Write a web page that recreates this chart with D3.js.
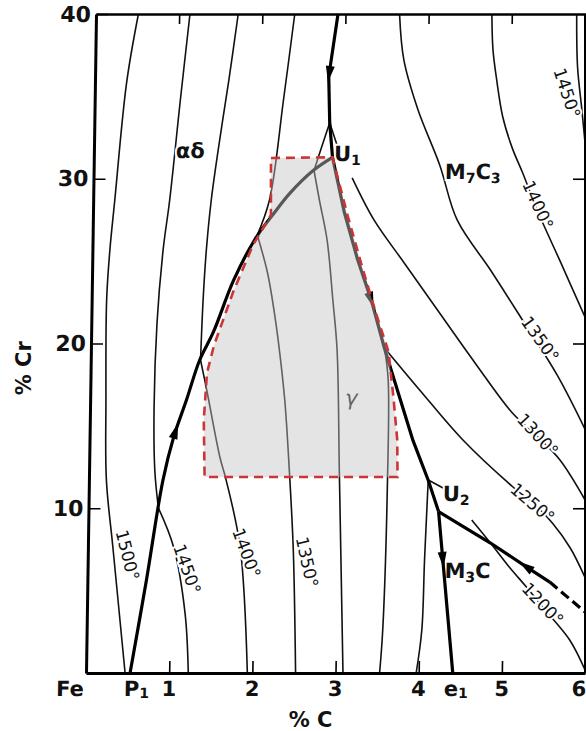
<!DOCTYPE html>
<html>
<head>
<meta charset="utf-8">
<script src="https://cdn.jsdelivr.net/npm/d3@7"></script>
<style>
body { margin: 0; background: #fff; }
text { font-family: "DejaVu Sans", sans-serif; fill: #111; }
</style>
</head>
<body>
<svg id="chart" width="586" height="731"></svg>
<script>
// values are [%C, %Cr]

// heavy boundary lines
const bP1U1 = [[0.53,0],[0.71,5.65],[0.89,11.7],[1.01,14.3],[1.16,16.6],[1.31,19.0],[1.47,20.7],[1.70,23.8],[1.95,26.3],[2.19,28.0],[2.36,29.1],[2.64,30.5],[2.87,31.3]];
const bTop = [[2.91,40],[2.81,36.2],[2.83,33.4],[2.87,31.3]];
const bU1U2 = [[2.87,31.3],[3.02,28.0],[3.19,25.1],[3.37,22.5],[3.53,19.7],[3.89,14.1],[4.08,11.7],[4.21,9.8]];
const bU2e1 = [[4.21,9.8],[4.41,0]];
const bU2M = [[4.21,9.8],[4.84,7.89],[5.28,6.43],[5.56,5.52]];
const bU2Mdash = [[5.56,5.52],[5.99,3.7]];

// isotherms
const iso1500 = [[0.51,40],[0.38,35.81],[0.26,28.71],[0.21,25.68],[0.18,22.64],[0.19,16.57],[0.21,11.71],[0.30,7.65],[0.47,0]];
const iso1450a = [[1.13,40],[1.03,34.78],[0.92,28.71],[0.85,25.68],[0.79,21.24],[0.77,16.15],[0.79,12.32],[0.84,10.02]];
const iso1450b = [[0.84,10.02],[1.03,7.65],[1.18,3.64],[1.23,0]];
const iso1400a = [[1.71,40],[1.61,36.0],[1.51,32.35],[1.42,28.71],[1.37,25.68],[1.34,22.64],[1.32,19.0]];
const iso1400b = [[1.32,19.0],[1.40,17.18],[1.57,13.11],[1.65,11.71],[1.83,7.65],[1.94,0]];
const iso1350a = [[2.39,40],[2.27,34.78],[2.12,28.71],[1.98,26.59]];
const iso1350b = [[1.98,26.59],[2.11,24.28],[2.20,21.85],[2.25,20.21],[2.34,16.57],[2.41,12.14],[2.47,7.47],[2.52,0]];
const iso1300a = [[2.83,33.4],[2.70,31.32],[2.65,30.5]];
const iso1300b = [[2.65,30.5],[2.72,28.71],[2.82,26.28],[2.90,22.64],[2.96,19.61],[3.01,12.14],[3.09,0]];
const forkRight = [[2.83,33.4],[2.93,31.93]];
const iso1300M = [[3.11,30.05],[3.38,27.5],[3.76,24.83],[4.16,22.03],[4.63,18.76],[5.08,15.78],[5.39,14.33],[5.66,12.93],[5.97,10.5]];
const iso1350M = [[3.65,40],[3.71,37.21],[3.89,34.17],[4.16,30.84],[4.38,27.5],[4.79,24.46],[5.16,21.61],[5.61,18.09],[5.96,14.75]];
const iso1400M = [[4.76,40],[4.78,37.82],[4.83,36.0],[4.91,33.75],[5.03,31.86],[5.16,30.35],[5.34,28.1],[5.63,24.95],[5.94,21.55]];
const iso1450M = [[5.78,40],[5.80,36.78],[5.86,34.17],[5.90,32.35]];
const iso1250M = [[3.53,19.73],[3.96,17.18],[4.49,14.14],[5.10,11.29],[5.37,10.2],[5.58,9.1],[5.80,7.59],[5.98,5.83]];
const iso1250g = [[3.53,19.73],[3.58,17.78],[3.59,11.71],[3.56,2.61],[3.53,0]];
const iso1200g = [[4.08,11.71],[4.05,6.86],[4.03,2.61],[3.97,0]];
const iso1200s = [[4.08,11.71],[4.26,11.23]];
const iso1200M = [[4.61,9.29],[4.84,7.89],[5.08,6.37],[5.28,5.22],[5.51,3.82],[5.81,2.0],[6.0,0.18]];

// highlighted gamma field
const gammaBox = [[2.13,31.26],[2.87,31.3],[3.06,27.8],[3.25,24.58],[3.42,21.85],[3.58,19.48],[3.65,16.57],[3.70,14.14],[3.71,11.9],[1.39,11.9],[1.37,15.36],[1.40,18.21],[1.48,19.9],[1.70,23.13],[1.93,25.98],[2.14,27.8]];

// labels
const isoLabels = [
  { t: "1500°", at: [0.48,7.16] },
  { t: "1450°", at: [1.20,6.31] },
  { t: "1400°", at: [1.91,7.28] },
  { t: "1350°", at: [2.64,6.74] },
  { t: "1450°", at: [5.68,35.2] },
  { t: "1400°", at: [5.35,28.41] },
  { t: "1350°", at: [5.40,20.27] },
  { t: "1300°", at: [5.39,14.45] },
  { t: "1250°", at: [5.34,10.32] },
  { t: "1200°", at: [5.48,4.19] }
];
const isoLabelAngle = [75, 70, 69, 77, 71, 65, 54, 47, 40, 46];

const regionLabels = [
  { parts: [["αδ", 0]], at: [1.16,31.0] },
  { parts: [["U", 0], ["1", 1]], at: [3.05,30.84] },
  { parts: [["M", 0], ["7", 1], ["C", 0], ["3", 1]], at: [4.56,29.74] },
  { parts: [["U", 0], ["2", 1]], at: [4.42,10.2] },
  { parts: [["M", 0], ["3", 1], ["C", 0]], at: [4.57,5.52] }
];
const gammaLabel = { t: "γ", at: [3.14,16.75] };

const xTicks = [1, 2, 3, 4, 5];
const yTicks = [10, 20, 30];
const xLabels = [
  { t: "Fe", c: -0.19 },
  { t: "P", sub: "1", c: 0.61 },
  { t: "1", c: 1 }, { t: "2", c: 2 }, { t: "3", c: 3 }, { t: "4", c: 4 },
  { t: "e", sub: "1", c: 4.45 },
  { t: "5", c: 5 }, { t: "6", c: 5.93 }
];
const yLabels = [10, 20, 30, 40];

// scales
const x = d3.scaleLinear().domain([0, 6]).range([86, 585]);
const y = d3.scaleLinear().domain([0, 40]).range([673, 14]);

const svg = d3.select("#chart");

// the scanned original leans a little to the right at the top
const skew = 10 / 659;
const plot = svg.append("g")
    .attr("transform", `translate(${skew * y(0)},0) skewX(${-Math.atan(skew) * 180 / Math.PI})`);

const smooth = d3.line().x(d => x(d[0])).y(d => y(d[1])).curve(d3.curveCatmullRom.alpha(0.5));
const straight = d3.line().x(d => x(d[0])).y(d => y(d[1]));

// thin isotherms
const isotherms = [iso1500, iso1450a, iso1450b, iso1400a, iso1400b, iso1350a, iso1350b,
    iso1300a, iso1300b, forkRight, iso1300M, iso1350M, iso1400M, iso1450M,
    iso1250M, iso1250g, iso1200g, iso1200s, iso1200M];
plot.selectAll(".iso")
    .data(isotherms)
    .enter().append("path")
    .attr("class", "iso")
    .attr("d", smooth)
    .attr("fill", "none")
    .attr("stroke", "#111")
    .attr("stroke-width", 1.6);

// isotherm labels
plot.selectAll(".isoLabel")
    .data(isoLabels)
    .enter().append("text")
    .attr("class", "isoLabel")
    .attr("transform", (d, i) => `translate(${x(d.at[0])},${y(d.at[1])}) rotate(${isoLabelAngle[i]})`)
    .attr("text-anchor", "middle")
    .attr("dy", "0.36em")
    .style("font-size", "17px")
    .style("stroke", "#fff")
    .style("stroke-width", 4)
    .style("paint-order", "stroke")
    .text(d => d.t);

// region labels
regionLabels.forEach(d => {
    const t = plot.append("text")
        .attr("x", x(d.at[0]))
        .attr("y", y(d.at[1]))
        .attr("text-anchor", "middle")
        .attr("dy", "0.36em")
        .style("font-size", "21px")
        .style("font-weight", "bold")
        .style("stroke", "#fff")
        .style("stroke-width", 4)
        .style("paint-order", "stroke");
    d.parts.forEach(p => {
        t.append("tspan")
            .attr("dy", p[1] ? 4 : (t.selectAll("tspan").size() ? -4 : 0))
            .style("font-size", p[1] ? "14px" : "21px")
            .text(p[0]);
    });
});
plot.append("text")
    .attr("x", x(gammaLabel.at[0]))
    .attr("y", y(gammaLabel.at[1]))
    .attr("text-anchor", "middle")
    .attr("dy", "0.36em")
    .style("font-size", "21px")
    .style("font-style", "italic")
    .text(gammaLabel.t);

// heavy boundaries
function heavy(pts, gen) {
    return plot.append("path")
        .attr("d", gen(pts))
        .attr("fill", "none")
        .attr("stroke", "#000")
        .attr("stroke-width", 3.2)
        .attr("stroke-linejoin", "round");
}
function arrow(path, t, reverse) {
    const node = path.node();
    const L = node.getTotalLength();
    const p = node.getPointAtLength(L * t);
    const q = node.getPointAtLength(Math.min(L, L * t + 1));
    let dx = q.x - p.x, dy = q.y - p.y;
    const n = Math.hypot(dx, dy);
    dx /= n; dy /= n;
    if (reverse) { dx = -dx; dy = -dy; }
    const len = 8, w = 4.5;
    const pts = [
        [p.x + dx * len, p.y + dy * len],
        [p.x - dx * len - dy * w, p.y - dy * len + dx * w],
        [p.x - dx * len + dy * w, p.y - dy * len - dx * w]
    ];
    plot.append("path").attr("d", "M" + pts.join("L") + "Z").attr("fill", "#000");
}
arrow(heavy(bP1U1, smooth), 0.435, false);
arrow(heavy(bTop, straight), 0.42, false);
arrow(heavy(bU1U2, straight), 0.40, false);
arrow(heavy(bU2e1, straight), 0.30, false);
arrow(heavy(bU2M, straight), 0.78, true);
heavy(bU2Mdash, straight).attr("stroke-dasharray", "10,5");

// frame
const bottomAxis = plot.append("g")
    .attr("transform", `translate(0,${y(0)})`)
    .call(d3.axisBottom(x).tickValues(xTicks).tickSizeInner(-12).tickSizeOuter(0).tickFormat(""));
const topAxis = plot.append("g")
    .attr("transform", `translate(0,${y(40)})`)
    .call(d3.axisTop(x).tickValues(xTicks).tickSizeInner(-10).tickSizeOuter(0).tickFormat(""));
const leftAxis = plot.append("g")
    .attr("transform", `translate(${x(0)},0)`)
    .call(d3.axisLeft(y).tickValues(yLabels).tickSizeInner(-12).tickSizeOuter(0).tickPadding(5));
const rightAxis = svg.append("g")
    .attr("transform", `translate(${x(6)},0)`)
    .call(d3.axisRight(y).tickValues(yTicks).tickSizeInner(-12).tickSizeOuter(0).tickFormat(""));

[bottomAxis, topAxis, leftAxis, rightAxis].forEach(a => {
    a.select(".domain").attr("stroke", "#000").attr("stroke-width", 3);
    a.selectAll(".tick line").attr("stroke", "#000").attr("stroke-width", 1.6);
});
topAxis.select(".domain").attr("stroke-width", 2.6);
leftAxis.selectAll(".tick text")
    .attr("fill", "#111")
    .style("font-family", "DejaVu Sans")
    .style("font-size", "22px")
    .style("font-weight", "bold");

// bottom labels
const xl = plot.selectAll(".xLabel")
    .data(xLabels)
    .enter().append("text")
    .attr("class", "xLabel")
    .attr("x", d => x(d.c))
    .attr("y", y(0) + 23)
    .attr("text-anchor", "middle")
    .style("font-size", "21px")
    .style("font-weight", "bold");
xl.append("tspan").text(d => d.t);
xl.filter(d => d.sub).append("tspan")
    .attr("dy", 2)
    .style("font-size", "14px")
    .text(d => d.sub);

svg.append("text")
    .attr("x", x(2.7))
    .attr("y", 727)
    .attr("text-anchor", "middle")
    .style("font-size", "21px")
    .style("font-weight", "bold")
    .text("% C");
svg.append("text")
    .attr("transform", `translate(31,${y(18.5)}) rotate(-90)`)
    .attr("text-anchor", "middle")
    .style("font-size", "21px")
    .style("font-weight", "bold")
    .text("% Cr");

// gamma field highlight
plot.append("path")
    .attr("d", straight(gammaBox) + "Z")
    .attr("fill", "#c4c4c4")
    .attr("fill-opacity", 0.45)
    .attr("stroke", "none");
plot.append("path")
    .attr("d", straight(gammaBox) + "Z")
    .attr("fill", "none")
    .attr("stroke", "#cc3535")
    .attr("stroke-width", 2.6)
    .attr("stroke-dasharray", "9,6");
</script>
</body>
</html>
